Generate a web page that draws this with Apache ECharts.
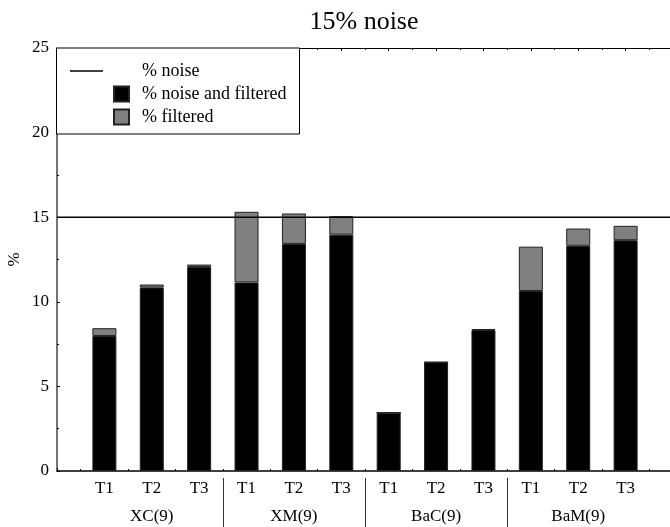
<!DOCTYPE html>
<html>
<head>
<meta charset="utf-8">
<script src="https://cdn.jsdelivr.net/npm/echarts@6/dist/echarts.min.js"></script>
<style>
  html, body { margin: 0; padding: 0; background: #fff; }
  #chart { width: 670px; height: 527px; }
</style>
</head>
<body>
<div id="chart"></div>
<script>
// Treatment labels under each bar
const tLabels = ['T1', 'T2', 'T3', 'T1', 'T2', 'T3', 'T1', 'T2', 'T3', 'T1', 'T2', 'T3'];
// Method groups, three treatments each
const groups = ['XC(9)', 'XM(9)', 'BaC(9)', 'BaM(9)'];
// Share of records that are both noisy and filtered (%)
const noiseAndFiltered = [7.98, 10.84, 12.06, 11.14, 13.42, 13.97, 3.45, 6.43, 8.33, 10.64, 13.31, 13.64];
// Additional share that is filtered only (%)
const filteredOnly = [0.46, 0.18, 0.14, 4.18, 1.80, 1.09, 0.00, 0.00, 0.05, 2.62, 1.02, 0.85];
// Injected noise level (%)
const noiseLevel = 15;
const yTicks = [0, 5, 10, 15, 20, 25];

const FONT = 'Liberation Serif';
const xMin = 0, xMax = tLabels.length + 1;

const chart = echarts.init(document.getElementById('chart'), null, { renderer: 'canvas' });

const baseX = {
  type: 'value', min: xMin, max: xMax, interval: 1,
  splitLine: { show: false }
};

// slots for the bars: one empty slot of padding at each end
const slots = [''].concat(tLabels, ['']);

chart.setOption({
  animation: false,
  backgroundColor: '#fff',
  title: {
    text: '15% noise',
    left: 364, top: 9, padding: 0,
    textAlign: 'center',
    textStyle: { fontFamily: FONT, fontWeight: 'normal', fontSize: 26, color: '#000' }
  },
  grid: { left: 57, top: 48, width: 616, height: 423, containLabel: false, outerBoundsMode: 'none' },
  legend: [
    {
      data: [{ name: '% noise', icon: 'rect' }],
      left: 70, top: 62, padding: 0,
      itemWidth: 33, itemHeight: 1.5,
      selectedMode: false,
      itemStyle: { color: '#000', borderWidth: 0 },
      textStyle: { fontFamily: FONT, fontSize: 18, color: '#000', padding: [0, 0, 0, 34] }
    },
    {
      data: [{ name: '% noise and filtered', icon: 'rect' }, { name: '% filtered', icon: 'rect' }],
      orient: 'vertical',
      left: 113, top: 85, padding: 0,
      itemWidth: 15, itemHeight: 15, itemGap: 5,
      selectedMode: false,
      textStyle: { fontFamily: FONT, fontSize: 18, color: '#000', padding: [0, 0, 0, 8] }
    }
  ],
  graphic: [
    {
      type: 'rect', z: 3,
      shape: { x: 56.5, y: 48, width: 243, height: 86 },
      style: { fill: '#fff', stroke: '#000', lineWidth: 1 }
    }
  ],
  xAxis: [
    Object.assign({}, baseX, {
      position: 'bottom',
      axisLine: { lineStyle: { color: '#000', width: 1.5 } },
      axisTick: { inside: true, length: 3, lineStyle: { color: '#000' } },
      minorTick: { show: true, splitNumber: 2, length: 2, lineStyle: { color: '#000' } },
      axisLabel: {
        margin: 9, fontFamily: FONT, fontSize: 17, color: '#000',
        showMinLabel: true, showMaxLabel: true,
        formatter: v => (v >= 1 && v <= tLabels.length) ? tLabels[v - 1] : ''
      }
    }),
    Object.assign({}, baseX, {
      position: 'top',
      axisLine: { lineStyle: { color: '#000', width: 1 } },
      axisTick: { inside: true, length: 3, lineStyle: { color: '#000' } },
      minorTick: { show: true, splitNumber: 2, length: 2, lineStyle: { color: '#000' } },
      axisLabel: { show: false }
    }),
    // group row: separators between groups and group names
    Object.assign({}, baseX, {
      position: 'bottom', offset: 7,
      axisLine: { show: false },
      axisTick: {
        show: true, inside: false, length: 50,
        customValues: groups.slice(1).map((g, i) => 3 * (i + 1) + 0.5),
        lineStyle: { color: '#333', width: 1 }
      },
      axisLabel: {
        show: true, margin: 30, fontFamily: FONT, fontSize: 17, color: '#000',
        customValues: groups.map((g, i) => 3 * i + 2),
        formatter: v => groups[(v - 2) / 3]
      }
    }),
    // hidden slot axis the stacked bars sit on
    {
      type: 'category', data: slots, boundaryGap: false, show: false
    }
  ],
  yAxis: {
    type: 'value', min: 0, max: 25, interval: 5,
    name: '%', nameLocation: 'middle', nameRotate: 90, nameGap: 34,
    nameMoveOverlap: false,
    nameTextStyle: { fontFamily: FONT, fontSize: 17, color: '#000' },
    axisLine: { show: true, lineStyle: { color: '#444', width: 1.5 } },
    axisTick: { show: true, inside: true, length: 3, lineStyle: { color: '#000' } },
    minorTick: { show: true, splitNumber: 2, length: 2, lineStyle: { color: '#000' } },
    splitLine: { show: false },
    axisLabel: {
      margin: 8, fontFamily: FONT, fontSize: 17, color: '#000',
      customValues: yTicks
    }
  },
  series: [
    {
      name: '% noise and filtered', type: 'bar', stack: 'total',
      xAxisIndex: 3, barWidth: 24,
      itemStyle: { color: '#000', borderColor: '#222', borderWidth: 1 },
      data: noiseAndFiltered.map((v, i) => [i + 1, v])
    },
    {
      name: '% filtered', type: 'bar', stack: 'total',
      xAxisIndex: 3, barWidth: 24,
      itemStyle: { color: '#808080', borderColor: '#222', borderWidth: 1 },
      data: filteredOnly.map((v, i) => [i + 1, v])
    },
    {
      name: '% noise', type: 'line', xAxisIndex: 0,
      symbol: 'none', z: 5,
      lineStyle: { color: '#000', width: 1.5 },
      itemStyle: { color: '#000' },
      data: [[xMin, noiseLevel], [xMax, noiseLevel]]
    }
  ]
});
</script>
</body>
</html>
